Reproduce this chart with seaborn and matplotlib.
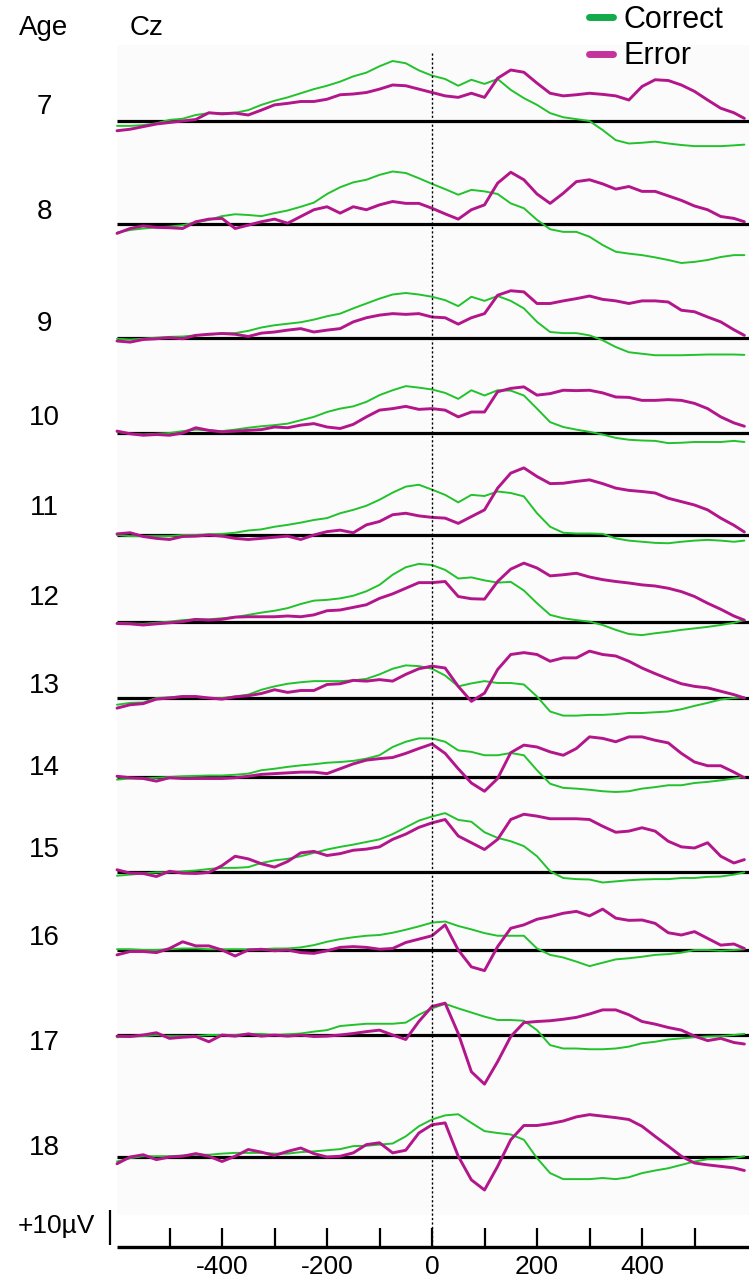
import numpy as np
import pandas as pd
import seaborn as sns
import matplotlib.pyplot as plt
from matplotlib.lines import Line2D

# response-locked ERP at Cz, amplitudes in microvolts
times = list(range(-600, 600, 25)) + [595]
ages = [7, 8, 9, 10, 11, 12, 13, 14, 15, 16, 17, 18]

c7 = [-1.3, -1.3, -1.1, -0.6, 0.3, 0.6, 1.6, 2.1, 2.1, 2.2, 2.9, 4.3, 5.4, 6.3, 7.4, 8.5, 9.4,
      10.5, 11.9, 12.9, 14.6, 16.0, 15.4, 13.5, 12.1, 11.2, 9.4, 11.0, 9.9, 11.2, 8.3, 6.1, 4.3,
      2.1, 1.0, 0.5, 0.0, -2.4, -5.1, -6.0, -5.8, -5.5, -6.0, -6.4, -6.7, -6.7, -6.7, -6.5, -6.3]
e7 = [-2.6, -2.2, -1.5, -0.8, -0.4, 0.0, 0.4, 2.2, 1.9, 2.1, 1.6, 2.9, 4.3, 4.7, 5.2, 5.2, 5.8,
      7.0, 7.2, 7.6, 8.5, 9.6, 9.4, 8.5, 7.6, 6.7, 6.3, 7.4, 6.3, 11.4, 13.6, 13.0, 10.1,
      7.4, 6.7, 7.0, 7.4, 7.1, 6.7, 5.6, 9.2, 11.0, 10.8, 9.6, 7.9, 5.6, 3.4, 2.2, 0.7]
c8 = [-2.3, -1.6, -1.2, -0.9, -0.7, -0.3, 0.4, 1.1, 2.1, 2.6, 2.4, 2.1, 2.9, 3.6, 4.6, 5.7, 8.0,
      9.8, 11.1, 11.8, 13.1, 14.0, 13.6, 12.2, 10.7, 9.3, 7.8, 9.1, 8.7, 8.0, 5.5, 4.2, 1.1,
      -1.4, -2.1, -2.1, -3.4, -5.6, -7.4, -7.9, -8.3, -8.9, -9.6, -10.4, -10.1, -9.6, -8.8, -8.3, -8.3]
e8 = [-2.5, -1.2, -0.5, -0.9, -1.0, -1.2, 0.6, 1.3, 1.5, -1.2, -0.3, 0.6, 1.3, 0.2, 2.0, 3.8, 4.6,
      2.9, 4.6, 3.8, 5.1, 6.0, 5.5, 5.5, 4.2, 2.7, 1.3, 3.8, 5.1, 10.9, 13.8, 11.8, 8.0,
      5.5, 8.2, 11.3, 11.8, 10.7, 9.3, 10.0, 8.7, 8.7, 7.5, 6.3, 4.8, 3.8, 2.0, 1.5, 0.6]
c9 = [-0.2, -0.4, -0.2, 0.1, 0.3, 0.4, 0.7, 0.9, 1.2, 1.3, 1.9, 2.8, 3.4, 3.8, 4.2, 4.9, 5.8,
      6.5, 7.9, 9.2, 10.5, 11.6, 12.0, 11.6, 11.0, 10.1, 8.5, 11.0, 9.9, 11.2, 9.9, 7.9, 4.3,
      1.6, 1.3, 1.3, 0.7, -0.6, -2.4, -3.8, -4.2, -4.6, -4.6, -4.6, -4.5, -4.4, -4.4, -4.4, -4.5]
e9 = [-0.8, -1.1, -0.4, -0.2, 0.1, -0.2, 0.7, 1.0, 1.2, 1.0, 0.4, 1.3, 1.6, 2.1, 2.5, 1.6, 2.1,
      2.5, 4.3, 5.4, 6.1, 6.5, 6.3, 6.5, 5.6, 5.4, 3.7, 5.4, 6.5, 11.4, 12.6, 12.3, 9.2,
      9.2, 9.9, 10.5, 11.2, 10.3, 9.9, 9.2, 9.9, 9.9, 9.6, 7.4, 7.0, 5.6, 4.3, 2.2, 0.7]
c10 = [0.3, -0.2, -0.4, -0.2, 0.0, 0.5, 0.9, 0.7, 0.5, 0.9, 1.4, 1.8, 2.1, 2.5, 3.4, 4.3, 5.6,
       6.5, 7.1, 8.3, 10.1, 11.4, 12.5, 12.1, 11.6, 10.7, 9.1, 11.4, 10.0, 11.4, 11.3, 10.0, 6.5,
       2.9, 1.6, 0.9, 0.3, -0.4, -1.3, -1.8, -2.0, -2.1, -2.7, -2.6, -2.4, -2.4, -2.4, -2.1, -2.4]
e10 = [0.5, -0.2, -0.6, -0.4, -0.6, 0.0, 1.4, 0.7, 0.3, 0.5, 0.7, 0.9, 1.6, 1.4, 2.1, 2.5, 1.6,
       1.2, 2.3, 4.3, 6.1, 6.5, 7.1, 6.3, 6.5, 6.1, 4.3, 5.6, 5.6, 11.0, 11.9, 12.3, 10.1,
       10.5, 11.4, 11.3, 11.4, 10.7, 9.6, 9.5, 8.7, 8.7, 8.9, 8.7, 7.9, 6.5, 4.3, 2.7, 1.8]
c11 = [0.0, -0.3, -0.3, -0.3, -0.3, 0.0, 0.0, 0.2, 0.3, 0.6, 1.2, 1.5, 2.2, 2.7, 3.3, 4.0, 4.5,
       5.8, 6.7, 7.8, 9.4, 11.3, 12.9, 13.4, 12.1, 10.7, 8.7, 10.7, 10.4, 11.6, 11.2, 10.3, 5.8,
       2.2, 0.6, 0.4, 0.4, 0.3, -0.9, -1.5, -1.8, -2.1, -2.2, -1.8, -1.5, -1.3, -1.5, -1.8, -1.5]
e11 = [0.3, 0.6, -0.4, -0.9, -1.2, -0.4, -0.3, 0.0, -0.3, -0.9, -1.2, -0.9, -0.6, -0.3, -1.2, 0.0, 0.9,
       1.3, 0.6, 2.7, 3.6, 5.4, 5.8, 5.1, 4.7, 4.5, 3.1, 4.9, 6.7, 12.5, 16.5, 17.9, 15.6,
       13.7, 13.8, 14.3, 14.7, 13.7, 12.5, 11.9, 11.6, 11.2, 9.8, 8.9, 8.0, 6.7, 4.5, 2.6, 0.8]
c12 = [-0.2, -0.4, -0.5, -0.2, 0.1, 0.5, 0.7, 0.7, 1.0, 1.3, 1.9, 2.5, 3.0, 3.7, 4.8, 5.7, 5.9,
       6.3, 7.0, 8.2, 9.9, 12.6, 14.6, 15.5, 15.2, 13.9, 11.6, 11.9, 11.1, 10.5, 10.7, 8.4, 5.0,
       1.9, 1.0, 0.5, 0.1, -0.8, -2.1, -3.2, -3.5, -3.0, -2.6, -2.1, -1.7, -1.3, -0.8, -0.2, 0.5]
e12 = [-0.4, -0.5, -0.8, -0.5, -0.2, 0.1, 0.7, 0.5, 0.7, 1.3, 1.4, 1.4, 1.4, 1.6, 1.4, 1.9, 3.0,
       3.2, 3.9, 4.6, 6.3, 7.5, 9.0, 10.5, 10.5, 10.8, 6.8, 6.2, 6.1, 10.8, 14.1, 15.7, 14.4,
       12.3, 12.6, 13.0, 12.0, 11.3, 10.8, 10.4, 9.9, 9.6, 9.0, 8.1, 6.8, 5.0, 3.4, 1.6, 0.5]
c13 = [-1.8, -1.3, -1.2, 0.0, 0.2, 0.4, 0.3, 0.0, 0.0, 0.4, 0.9, 2.2, 3.1, 3.8, 4.2, 4.5, 4.5,
       4.5, 4.7, 5.1, 6.3, 7.8, 8.7, 8.5, 7.8, 6.0, 3.1, 3.9, 4.5, 4.0, 4.0, 3.6, 0.4,
       -3.6, -4.7, -4.7, -4.5, -4.5, -4.3, -4.0, -4.0, -3.8, -3.6, -3.0, -2.1, -1.3, -0.4, 0.0, 0.2]
e13 = [-2.7, -1.8, -1.5, -0.3, 0.0, 0.4, 0.4, 0.0, -0.3, 0.3, 0.6, 1.2, 2.2, 1.5, 2.0, 2.0, 3.6,
       3.8, 4.7, 4.5, 4.9, 4.5, 6.3, 7.8, 8.5, 8.0, 3.1, -0.9, 1.3, 7.6, 11.6, 12.1, 11.6,
       9.8, 10.7, 10.7, 12.5, 11.6, 11.2, 9.8, 8.0, 6.5, 5.1, 3.8, 3.1, 2.7, 1.8, 0.9, 0.0]
c14 = [-0.7, -0.4, -0.4, -0.2, 0.0, 0.2, 0.3, 0.4, 0.4, 0.6, 0.9, 1.8, 2.2, 2.7, 3.1, 3.4, 3.8,
       4.0, 4.3, 4.9, 5.8, 8.0, 9.4, 10.3, 10.3, 9.4, 7.1, 6.7, 5.8, 5.8, 6.4, 5.8, 1.8,
       -1.8, -2.9, -3.1, -3.4, -3.8, -4.0, -3.8, -3.1, -2.7, -2.2, -2.2, -1.6, -1.3, -0.9, -0.4, 0.0]
e14 = [0.2, -0.2, -0.4, -1.1, -0.2, -0.4, -0.4, -0.4, -0.4, -0.2, 0.2, 0.7, 0.9, 1.1, 1.3, 1.3, 0.9,
       2.2, 3.5, 4.5, 4.9, 5.2, 6.3, 7.6, 8.8, 6.3, 2.2, -1.6, -3.8, -0.4, 6.5, 8.5, 8.0,
       6.7, 5.8, 7.6, 10.7, 10.3, 9.4, 10.7, 10.7, 9.8, 9.1, 6.3, 4.0, 3.0, 3.0, 1.3, -0.2]
c15 = [-1.0, -0.7, -0.4, -0.1, -0.1, 0.2, 0.4, 0.8, 1.1, 1.1, 1.3, 2.4, 3.1, 3.5, 4.2, 5.1, 6.0,
       6.7, 7.3, 8.0, 8.7, 10.1, 11.9, 13.7, 14.8, 15.7, 13.9, 13.4, 10.6, 9.1, 8.2, 6.9, 4.2,
       0.2, -1.6, -1.9, -2.0, -2.8, -2.5, -2.2, -2.0, -1.9, -1.9, -1.6, -1.6, -1.3, -1.2, -0.7, -0.1]
e15 = [0.6, -0.3, -0.4, -1.2, 0.2, -0.3, -0.4, -0.1, 1.7, 4.2, 3.5, 2.2, 1.3, 2.8, 5.1, 5.5, 4.4,
       4.9, 5.8, 6.1, 6.7, 8.7, 10.1, 11.9, 13.1, 14.0, 9.6, 7.8, 6.0, 8.7, 14.0, 15.4, 14.9,
       14.2, 14.2, 14.2, 14.0, 12.2, 10.6, 10.9, 11.8, 10.9, 8.2, 6.7, 6.4, 7.8, 4.2, 2.4, 3.3]
c16 = [0.2, 0.2, 0.0, 0.0, 0.2, 0.4, 0.4, 0.2, 0.2, 0.2, 0.2, 0.2, 0.4, 0.4, 0.7, 1.3, 2.2,
       2.9, 3.4, 3.8, 4.0, 4.6, 5.4, 6.3, 7.3, 7.6, 6.4, 5.5, 4.5, 3.8, 3.8, 3.8, 0.4,
       -1.3, -2.0, -3.1, -4.3, -3.4, -2.5, -2.2, -1.8, -1.3, -1.1, -0.7, 0.0, 0.0, -0.2, 0.0, 0.2]
e16 = [-1.3, -0.4, -0.4, -0.7, 0.4, 2.2, 1.1, 1.1, 0.0, -1.6, 0.0, 0.2, -0.2, 0.0, -0.7, -0.9, -0.2,
       0.7, 0.9, 0.7, 0.2, 0.4, 2.0, 2.9, 3.8, 6.7, 0.0, -4.5, -5.5, 0.9, 5.8, 6.7, 8.2,
       8.9, 9.8, 10.3, 9.1, 10.9, 8.5, 7.9, 8.0, 7.1, 4.6, 4.0, 4.9, 3.1, 1.3, 1.6, 0.4]
c17 = [-0.6, -0.4, -0.3, 0.0, -0.3, -0.3, -0.3, 0.0, 0.0, 0.0, 0.3, 0.3, 0.0, 0.2, 0.4, 0.9, 1.3,
       2.4, 2.7, 3.0, 3.0, 3.0, 3.3, 5.4, 7.1, 8.3, 7.1, 6.0, 4.9, 4.0, 4.0, 3.8, 1.3,
       -2.7, -3.6, -3.6, -3.8, -3.8, -3.6, -3.1, -2.2, -1.8, -1.2, -0.9, -0.6, -0.4, -0.3, 0.0, 0.3]
e17 = [-0.3, -0.4, 0.0, 0.6, -0.9, -0.6, -0.4, -1.8, 0.0, -0.3, 0.3, -0.3, 0.0, -0.3, 0.0, -0.4, -0.3,
       0.0, 0.4, 0.9, 1.3, 0.0, -1.2, 3.6, 7.6, 8.5, 0.4, -9.8, -13.1, -7.1, -0.4, 3.3, 3.6,
       3.8, 4.2, 4.7, 5.6, 6.7, 6.7, 5.4, 3.6, 2.9, 2.0, 1.3, -0.3, -1.5, -0.9, -2.0, -2.4]
c18 = [-1.2, -0.3, 0.2, 0.2, 0.2, 0.4, 0.6, 0.6, 0.9, 1.1, 1.1, 1.1, 0.9, 0.9, 1.3, 1.5, 1.8,
       2.1, 2.9, 3.0, 3.3, 3.6, 5.5, 8.2, 10.0, 11.1, 11.4, 9.1, 6.9, 6.4, 6.0, 4.6, -0.3,
       -4.3, -5.9, -5.9, -5.9, -5.6, -5.9, -5.4, -4.3, -3.6, -3.0, -2.1, -1.2, -0.6, -0.6, -0.3, 0.2]
e18 = [-1.8, 0.0, 0.6, -0.7, 0.0, 0.2, 0.9, 0.2, -1.2, 0.2, 2.0, 1.3, 0.4, 1.5, 2.4, 0.9, 0.0,
       0.2, 1.1, 3.3, 3.8, 1.1, 1.8, 6.4, 8.6, 9.1, 0.2, -6.1, -8.8, -2.5, 4.6, 8.4, 8.4,
       8.9, 9.6, 10.7, 11.3, 10.9, 10.5, 10.0, 8.2, 5.5, 2.9, 0.2, -1.6, -2.1, -2.5, -2.9, -3.6]

correct_waves = [c7, c8, c9, c10, c11, c12, c13, c14, c15, c16, c17, c18]
error_waves = [e7, e8, e9, e10, e11, e12, e13, e14, e15, e16, e17, e18]

# layout: vertical position (pixels from top) of each age's baseline
row_base = [121, 224, 338, 433, 535, 622, 698, 777, 872, 950, 1035, 1157]
label_y = [107, 212, 324, 418, 508, 598, 686, 768, 850, 938, 1043, 1148]
UV_PX = 3.75      # pixels per microvolt
PX_MS = 0.525     # pixels per millisecond
ZERO_PX = 432
AXIS_Y = 1247

GREEN = "#22c22c"
MAGENTA = "#b3158b"

rows = []
for age, base, cw, ew in zip(ages, row_base, correct_waves, error_waves):
    for cond, wave in (("Correct", cw), ("Error", ew)):
        for t, v in zip(times, wave):
            rows.append({"age": age, "condition": cond, "time": t,
                         "y": base - v * UV_PX})
df = pd.DataFrame(rows)

sns.set_theme(style="white")
plt.rcParams["font.family"] = ["Liberation Sans", "DejaVu Sans"]
plt.rcParams["text.color"] = "black"

fig = plt.figure(figsize=(7.49, 12.8), dpi=100)
ax = fig.add_axes([0, 0, 1, 1])
x_left = (0 - ZERO_PX) / PX_MS
x_right = (749 - ZERO_PX) / PX_MS
ax.set_xlim(x_left, x_right)
ax.set_ylim(1280, 0)
ax.axis("off")

# faint panel background
ax.axvspan(-600, x_right, ymin=1 - 1215 / 1280, ymax=1 - 45 / 1280,
           color="#fbfbfb", zorder=0, lw=0)

# baselines
ax.hlines(row_base, -600, x_right, color="black", lw=2.3, zorder=1)

sns.lineplot(data=df, x="time", y="y", hue="condition", units="age",
             estimator=None, sort=False, hue_order=["Correct", "Error"],
             palette={"Correct": GREEN, "Error": MAGENTA},
             size="condition", sizes={"Correct": 1.4, "Error": 2.1},
             legend=False, ax=ax, zorder=2)

# response onset
ax.vlines(0, 53, AXIS_Y, color="black", lw=1.0, linestyles=(0, (1.6, 1.6)), zorder=3)

# time axis
ax.hlines(AXIS_Y, -600, x_right, color="black", lw=2.4)
ax.vlines(np.arange(-500, 501, 100), 1228, AXIS_Y, color="black", lw=1.6)
for t in [-400, -200, 0, 200, 400]:
    ax.text(t, 1267, str(t), ha="center", va="center", fontsize=19)

# amplitude scale bar
scale_x = (110 - ZERO_PX) / PX_MS
ax.vlines(scale_x, AXIS_Y - 10 * UV_PX, AXIS_Y - 2, color="black", lw=1.6)
ax.text((95 - ZERO_PX) / PX_MS, 1226, "+10µV", ha="right", va="center", fontsize=19)

# labels
ax.text((44 - ZERO_PX) / PX_MS, 28, "Age", ha="center", va="center", fontsize=20)
ax.text((147 - ZERO_PX) / PX_MS, 28, "Cz", ha="center", va="center", fontsize=20)
for age, y in zip(ages, label_y):
    ax.text((44 - ZERO_PX) / PX_MS, y, str(age), ha="center", va="center", fontsize=20)

handles = [Line2D([], [], color="#12aa4a", lw=5),
           Line2D([], [], color="#c4349c", lw=5)]
leg = ax.legend(handles, ["Correct", "Error"], loc="upper right",
                bbox_to_anchor=(0.995, 1.013), frameon=False, fontsize=22,
                handlelength=0.8, handletextpad=0.35, labelspacing=0.22,
                borderpad=0.2)
for txt in leg.get_texts():
    txt.set_color("black")

fig.savefig("out.png", dpi=100)
